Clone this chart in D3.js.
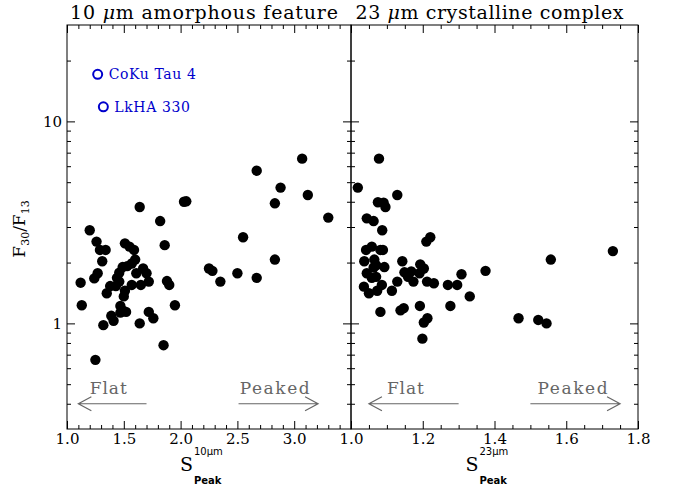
<!DOCTYPE html>
<html>
<head>
<meta charset="utf-8">
<script src="https://cdn.jsdelivr.net/npm/d3@7/dist/d3.min.js"></script>
<style>
  body { margin: 0; background: #fff; }
  svg text { font-family: "DejaVu Serif", serif; fill: #000; }
  .axis path { display: none; }
  .axis line { stroke: #000; stroke-width: 1; }
  .axis text { font-family: "DejaVu Serif", serif; font-size: 15px; }
</style>
</head>
<body>
<svg id="chart" width="675" height="489"></svg>
<script>
// 10 um feature strength vs F30/F13
var amorphX = [1.20, 1.26, 1.29, 1.34, 1.51, 1.55, 1.59, 1.86, 1.31, 1.60,
               1.57, 1.53, 1.49, 1.67, 1.70, 1.72, 1.61, 1.65, 1.27, 1.24,
               1.46, 1.44, 1.46, 1.12, 1.57, 1.38, 1.43, 1.35, 1.51, 1.50,
               1.88, 1.90, 1.13, 1.47, 1.49, 1.52, 1.47, 1.95, 1.39, 1.41,
               1.72, 1.76, 1.32, 1.64, 1.85, 1.25, 1.64, 1.82, 2.03, 2.05,
               2.67, 3.07, 2.88, 2.83, 3.12, 3.30, 2.55, 2.83, 2.25, 2.28,
               2.50, 2.67, 2.35];
var amorphY = [2.89, 2.54, 2.31, 2.31, 2.49, 2.40, 2.31, 2.44, 2.03, 2.07,
               1.98, 1.92, 1.90, 1.87, 1.77, 1.61, 1.77, 1.55, 1.77, 1.67,
               1.78, 1.68, 1.61, 1.59, 1.55, 1.53, 1.53, 1.41, 1.45, 1.36,
               1.62, 1.55, 1.23, 1.22, 1.16, 1.14, 1.13, 1.23, 1.09, 1.03,
               1.14, 1.06, 0.98, 1.00, 0.78, 0.66, 3.77, 3.21, 4.00, 4.02,
               5.70, 6.54, 4.70, 3.93, 4.32, 3.34, 2.67, 2.07, 1.87, 1.82,
               1.77, 1.68, 1.61];

// 23 um complex strength vs F30/F13
var crystX = [1.078, 1.019, 1.129, 1.075, 1.091, 1.096, 1.044, 1.063, 1.087, 1.210,
              1.221, 1.042, 1.058, 1.082, 1.089, 1.037, 1.065, 1.070, 1.093, 1.063,
              1.143, 1.193, 1.203, 1.044, 1.058, 1.070, 1.149, 1.168, 1.159, 1.191,
              1.308, 1.036, 1.050, 1.073, 1.086, 1.114, 1.129, 1.174, 1.212, 1.231,
              1.270, 1.296, 1.331, 1.082, 1.138, 1.147, 1.192, 1.277, 1.203, 1.213,
              1.199, 1.467, 1.522, 1.545, 1.375, 1.557, 1.730];
var crystY = [6.54, 4.70, 4.32, 3.98, 3.96, 3.77, 3.31, 3.21, 2.89, 2.54,
              2.67, 2.31, 2.40, 2.31, 2.31, 2.03, 2.07, 1.94, 1.90, 1.89,
              2.03, 1.96, 1.87, 1.77, 1.68, 1.70, 1.79, 1.81, 1.70, 1.77,
              1.75, 1.52, 1.41, 1.45, 1.55, 1.45, 1.61, 1.61, 1.61, 1.58,
              1.55, 1.55, 1.36, 1.14, 1.16, 1.19, 1.22, 1.22, 1.01, 1.06,
              0.84, 1.06, 1.04, 1.00, 1.82, 2.07, 2.28];

// the two sources only in the left panel
var outlierNames = ["CoKu Tau 4", "LkHA 330"];
var outlierX = [1.27, 1.32];
var outlierY = [17.1, 11.8];

var titleNums = ["10", "23"];
var titleWords = ["amorphous feature", "crystalline complex"];
var xLabelSup = ["10\u03bcm", "23\u03bcm"];
var leftTicks = [1.0, 1.5, 2.0, 2.5, 3.0];
var rightTicks = [1.0, 1.2, 1.4, 1.6, 1.8];
var yTicks = [1, 10];
var yMinor = [0.4, 0.5, 0.6, 0.7, 0.8, 0.9, 2, 3, 4, 5, 6, 7, 8, 9, 20];

// Flat / Peaked arrows: [from, to] in data x, text start in data x
var flatArrow = [[1.70, 1.10], [1.30, 1.05]];
var peakArrow = [[2.51, 3.21], [1.50, 1.75]];
var flatText = [1.20, 1.10];
var peakText = [2.52, 1.52];
var arrowLevel = 0.4;

var svg = d3.select("#chart");
var plotTop = 25, plotBottom = 429;

var y = d3.scaleLog().domain([0.3, 30]).range([plotBottom, plotTop]);

var panels = [
  { x: d3.scaleLinear().domain([1.0, 3.5]).range([67, 351]),
    major: leftTicks, minor: d3.range(11, 35).map(function(d) { return d / 10; }),
    xs: amorphX, ys: amorphY },
  { x: d3.scaleLinear().domain([1.0, 1.8]).range([351, 638]),
    major: rightTicks, minor: d3.range(21, 36).map(function(d) { return d / 20; }),
    xs: crystX, ys: crystY }
];

panels.forEach(function(p, i) {
  var x = p.x;
  var x0 = x.range()[0], x1 = x.range()[1];
  var minor = p.minor.filter(function(v) {
    return p.major.every(function(m) { return Math.abs(m - v) > 1e-6; });
  });

  // bottom ticks with labels
  svg.append("g").attr("class", "axis")
    .attr("transform", "translate(0," + plotBottom + ")")
    .call(d3.axisBottom(x).tickValues(p.major).tickFormat(d3.format(".1f"))
      .tickSize(-8).tickSizeOuter(0).tickPadding(4));
  svg.append("g").attr("class", "axis")
    .attr("transform", "translate(0," + plotBottom + ")")
    .call(d3.axisBottom(x).tickValues(minor).tickFormat("").tickSize(-4).tickSizeOuter(0));
  // top ticks
  svg.append("g").attr("class", "axis")
    .attr("transform", "translate(0," + plotTop + ")")
    .call(d3.axisTop(x).tickValues(p.major).tickFormat("").tickSize(-8).tickSizeOuter(0));
  svg.append("g").attr("class", "axis")
    .attr("transform", "translate(0," + plotTop + ")")
    .call(d3.axisTop(x).tickValues(minor).tickFormat("").tickSize(-4).tickSizeOuter(0));

  // left / right ticks
  var yl = d3.axisLeft(y).tickValues(yTicks).tickSize(-8).tickSizeOuter(0).tickPadding(5)
    .tickFormat(i === 0 ? d3.format("d") : "");
  svg.append("g").attr("class", "axis").attr("transform", "translate(" + x0 + ",0)").call(yl);
  svg.append("g").attr("class", "axis").attr("transform", "translate(" + x0 + ",0)")
    .call(d3.axisLeft(y).tickValues(yMinor).tickFormat("").tickSize(-4).tickSizeOuter(0));
  svg.append("g").attr("class", "axis").attr("transform", "translate(" + x1 + ",0)")
    .call(d3.axisRight(y).tickValues(yTicks).tickFormat("").tickSize(-8).tickSizeOuter(0));
  svg.append("g").attr("class", "axis").attr("transform", "translate(" + x1 + ",0)")
    .call(d3.axisRight(y).tickValues(yMinor).tickFormat("").tickSize(-4).tickSizeOuter(0));

  // frame
  svg.append("rect")
    .attr("x", x0).attr("y", plotTop)
    .attr("width", x1 - x0).attr("height", plotBottom - plotTop)
    .attr("fill", "none").attr("stroke", "#000").attr("stroke-width", 1);

  // title
  var t = svg.append("text")
    .attr("x", (x0 + x1) / 2 - 5).attr("y", 19)
    .attr("text-anchor", "middle")
    .attr("textLength", 268).attr("lengthAdjust", "spacing")
    .style("font-size", "19px");
  t.append("tspan").text(titleNums[i] + " ");
  t.append("tspan").style("font-style", "italic").text("\u03bc");
  t.append("tspan").text("m " + titleWords[i]);

  // points
  svg.append("g").selectAll("circle")
    .data(d3.zip(p.xs, p.ys))
    .enter().append("circle")
    .attr("cx", function(d) { return x(d[0]); })
    .attr("cy", function(d) { return y(d[1]); })
    .attr("r", 5.2)
    .attr("fill", "#000");

  // Flat / Peaked
  var gy = y(arrowLevel);
  var grey = "#666";
  [flatArrow[i], peakArrow[i]].forEach(function(a) {
    var xa = x(a[0]), xb = x(a[1]);
    var dir = xb > xa ? 1 : -1;
    svg.append("path")
      .attr("d", "M" + xa + "," + gy + "L" + xb + "," + gy +
        "M" + (xb - dir * 13) + "," + (gy - 7) + "L" + xb + "," + gy +
        "L" + (xb - dir * 13) + "," + (gy + 7))
      .attr("fill", "none").attr("stroke", grey).attr("stroke-width", 1.2);
  });
  svg.append("text").attr("x", x(flatText[i])).attr("y", gy - 10)
    .attr("textLength", 37)
    .style("font-size", "17px").style("fill", grey).text("Flat");
  svg.append("text").attr("x", x(peakText[i])).attr("y", gy - 10)
    .attr("textLength", 70)
    .style("font-size", "17px").style("fill", grey).text("Peaked");

  // x label: S with sup / sub
  var cx = (x0 + x1) / 2 - 16;
  svg.append("text").attr("x", cx).attr("y", 471)
    .attr("text-anchor", "end").style("font-size", "19px").text("S");
  svg.append("text").attr("x", cx + 1).attr("y", 455)
    .style("font-family", "'DejaVu Sans', sans-serif").style("font-size", "10px")
    .text(xLabelSup[i]);
  svg.append("text").attr("x", cx + 1).attr("y", 484)
    .style("font-family", "'DejaVu Sans', sans-serif").style("font-size", "10px")
    .style("font-weight", "bold").text("Peak");
});

// outliers
var blue = "#0000cc";
var outl = svg.append("g");
outl.selectAll("circle")
  .data(d3.zip(outlierX, outlierY))
  .enter().append("circle")
  .attr("cx", function(d) { return panels[0].x(d[0]); })
  .attr("cy", function(d) { return y(d[1]); })
  .attr("r", 4.5)
  .attr("fill", "none").attr("stroke", blue).attr("stroke-width", 2);
outl.selectAll("text")
  .data(outlierNames)
  .enter().append("text")
  .attr("x", function(d, i) { return panels[0].x(outlierX[i]) + 11; })
  .attr("y", function(d, i) { return y(outlierY[i]) + 5; })
  .style("font-size", "14px").style("letter-spacing", "0.6px").style("fill", blue)
  .text(function(d) { return d; });

// y label
var ylab = svg.append("text")
  .attr("transform", "translate(25," + ((plotTop + plotBottom) / 2 + 2) + ") rotate(-90)")
  .attr("text-anchor", "middle")
  .style("font-size", "17px");
ylab.append("tspan").text("F");
ylab.append("tspan").attr("dy", 4).style("font-size", "11px").text("30");
ylab.append("tspan").attr("dy", -4).text("/F");
ylab.append("tspan").attr("dy", 4).style("font-size", "11px").text("13");
</script>
</body>
</html>
